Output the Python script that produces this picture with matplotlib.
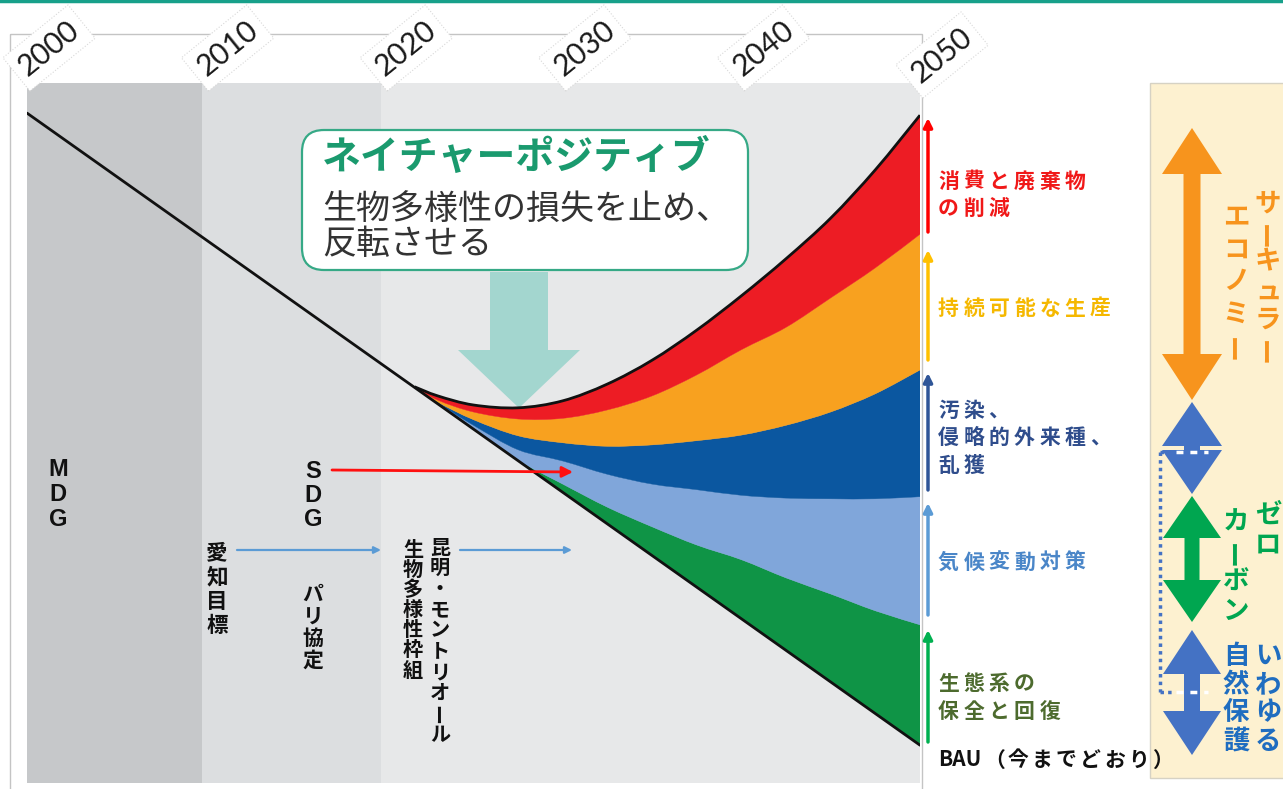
import matplotlib
matplotlib.use('Agg')
import matplotlib.pyplot as plt
from matplotlib.patches import FancyBboxPatch, Polygon, Rectangle, PathPatch
from matplotlib.path import Path

# ---------------- data ----------------
tick_years = [2000, 2010, 2020, 2030, 2040, 2050]
period_edges = [2000, 2009.8, 2019.8, 2050]
period_colors = ['#c6c8ca', '#dcdee0', '#e7e8e9']

bau_years = [2000, 2050]
bau_index = [95.7, 5.4]

branch_years = [2021.7, 2023, 2025, 2027.5, 2030, 2032.5, 2035, 2037.5,
                2040, 2042.5, 2045, 2047.5, 2050]
bau_branch = [56.6, 54.2, 50.6, 46.1, 41.5, 37.0, 32.5, 28.0, 23.5, 19.0, 14.5, 9.9, 5.4]
ecosystem_top = [56.6, 54.2, 50.6, 46.1, 42.7, 39.4, 36.6, 34.0, 31.9, 29.3, 27.0, 24.6, 22.6]
climate_top = [56.6, 54.3, 51.1, 47.6, 46.0, 44.1, 42.7, 41.9, 41.1, 40.7, 40.6, 40.6, 40.9]
pollution_top = [56.6, 54.4, 51.9, 49.6, 48.6, 48.1, 48.3, 48.9, 49.7, 51.1, 53.0, 55.6, 59.0]
production_top = [56.6, 54.7, 53.0, 52.0, 52.1, 53.3, 55.3, 58.3, 61.9, 65.1, 69.3, 73.6, 78.4]
consumption_top = [56.6, 55.3, 54.0, 53.6, 54.6, 57.0, 60.4, 64.7, 69.6, 74.9, 80.7, 87.6, 95.4]

band_colors = ['#0f9446', '#80a6da', '#0b57a0', '#f8a11f', '#ed1c24']

right_labels = [["消費と廃棄物", "の削減"], ["持続可能な生産"],
                ["汚染、", "侵略的外来種、", "乱獲"], ["気候変動対策"],
                ["生態系の", "保全と回復"]]
right_label_colors = ['#f01818', '#f5b800', '#2f4d8c', '#4a86c8', '#4d6b2e']
right_arrow_colors = ['#ff0000', '#ffc000', '#2f5597', '#5b9bd5', '#00b050']

CJK = ['Noto Sans CJK JP', 'DejaVu Sans']
LAT = ['Liberation Sans', 'DejaVu Sans']

# ---------------- figure ----------------
W, H = 1283, 789
fig = plt.figure(figsize=(W / 100, H / 100), dpi=100)
fig.patch.set_facecolor('white')

# main data axes: x 27..920 px, y 83..783 px
ax = fig.add_axes([27 / W, (H - 783) / H, 893 / W, 700 / H])
ax.set_xlim(2000, 2050)
ax.set_ylim(0, 100)
ax.axis('off')
ax.set_zorder(1)

# pixel overlay axes
px = fig.add_axes([0, 0, 1, 1])
px.set_xlim(0, W)
px.set_ylim(H, 0)
px.axis('off')
px.set_zorder(3)


def bezier_segments(xs, ys):
    """Catmull-Rom through the data points, expressed as cubic Bezier segments."""
    pts = list(zip(xs, ys))
    n = len(pts)
    verts, codes = [], []
    for i in range(n - 1):
        p0 = pts[i - 1] if i > 0 else pts[i]
        p1 = pts[i]
        p2 = pts[i + 1]
        p3 = pts[i + 2] if i + 2 < n else pts[i + 1]
        c1 = (p1[0] + (p2[0] - p0[0]) / 6, p1[1] + (p2[1] - p0[1]) / 6)
        c2 = (p2[0] - (p3[0] - p1[0]) / 6, p2[1] - (p3[1] - p1[1]) / 6)
        verts += [c1, c2, p2]
        codes += [Path.CURVE4] * 3
    return verts, codes


def curve_path(xs, ys):
    v, c = bezier_segments(xs, ys)
    return Path([(xs[0], ys[0])] + v, [Path.MOVETO] + c)


def band_path(xs, lower, upper):
    v1, c1 = bezier_segments(xs, upper)
    v2, c2 = bezier_segments(xs[::-1], lower[::-1])
    verts = [(xs[0], upper[0])] + v1 + [(xs[-1], lower[-1])] + v2 + [(xs[0], upper[0])]
    codes = [Path.MOVETO] + c1 + [Path.LINETO] + c2 + [Path.CLOSEPOLY]
    return Path(verts, codes)


# background periods
for i in range(3):
    ax.axvspan(period_edges[i], period_edges[i + 1], color=period_colors[i], lw=0, zorder=0)

# big teal arrow (decoration, pixel coords)
teal = Polygon([(490, 272), (548, 272), (548, 350), (580, 350), (519, 408),
                (458, 350), (490, 350)], closed=True, fc='#a3d6cf', ec='none',
               transform=px.transData, zorder=1)
ax.add_patch(teal)

# bands
layers = [bau_branch, ecosystem_top, climate_top, pollution_top, production_top, consumption_top]
for i in range(5):
    ax.add_patch(PathPatch(band_path(branch_years, layers[i], layers[i + 1]),
                           fc=band_colors[i], ec=band_colors[i], lw=0.3, zorder=2))

ax.plot(bau_years, bau_index, color='#111111', lw=2.0, zorder=3, solid_capstyle='round')
ax.add_patch(PathPatch(curve_path(branch_years, consumption_top), fill=False,
                       ec='#111111', lw=2.0, zorder=3))

# ---------------- overlay decorations ----------------
px.plot([0, W], [1, 1], color='#17a08a', lw=2.5)
px.add_patch(Rectangle((10, 34), 912, 760, fill=False, ec='#c4c4c4', lw=1))

# year labels
for y in tick_years:
    xp = 27 + (y - 2000) * 893 / 50 + 22
    yp = 55 if y == 2050 else 48
    px.text(xp, yp, str(y), rotation=39, ha='center', va='center', fontsize=21.5,
            family='Lato', color='#1a1a1a',
            bbox=dict(boxstyle='square,pad=0.25', fc='white', ec='#d8d8d8', lw=0.8, ls=':'))

# nature positive box
px.add_patch(FancyBboxPatch((302, 130), 446, 140,
                            boxstyle='round,pad=0,rounding_size=22',
                            fc='white', ec='#36a986', lw=1.6))
px.text(322, 157, 'ネイチャーポジティブ', fontsize=28, fontweight='bold',
        color='#1a9a6e', family=CJK, ha='left', va='center')
px.text(322, 209, '生物多様性の損失を止め、', fontsize=24.5, color='#333333',
        family=CJK, ha='left', va='center')
px.text(322, 244, '反転させる', fontsize=24.5, color='#333333',
        family=CJK, ha='left', va='center')


def vtext(x, y0, step, s, size, color='#111111', weight='bold', fam=CJK):
    for i, ch in enumerate(s):
        rot = 90 if ch == 'ー' else 0
        px.text(x, y0 + i * step, ch, ha='center', va='center', rotation=rot,
                fontsize=size, fontweight=weight, color=color, family=fam)


def htext(x0, y, step, s, size, color, weight='bold'):
    for i, ch in enumerate(s):
        px.text(x0 + i * step, y, ch, ha='left', va='center', fontsize=size,
                fontweight=weight, color=color, family=CJK)


vtext(58, 469, 25.5, 'MDG', 17, fam=LAT)
vtext(313, 471, 24.5, 'SDG', 17, fam=LAT)
vtext(217, 553, 24, '愛知目標', 15.5)
vtext(313, 594, 22, 'パリ協定', 15)
vtext(440, 547, 20.8, '昆明・モントリオール', 14.5)
vtext(413, 549, 20.2, '生物多様性枠組', 14.5)

# policy arrows
px.annotate('', xy=(573, 472), xytext=(332, 470),
            arrowprops=dict(arrowstyle='-|>', color='#ff1010', lw=2,
                            mutation_scale=16, shrinkA=0, shrinkB=0))
for a, b in [(237, 381), (460, 572)]:
    px.annotate('', xy=(b, 550), xytext=(a, 550),
                arrowprops=dict(arrowstyle='-|>', color='#5b9bd5', lw=1.6,
                                mutation_scale=10, shrinkA=0, shrinkB=0))

# right side arrows and labels
arrow_spans = [(232, 118), (360, 250), (490, 373), (615, 503), (742, 630)]
label_y0 = [181, 308, 410, 562, 684]
for i in range(5):
    y0, y1 = arrow_spans[i]
    px.annotate('', xy=(928, y1), xytext=(928, y0),
                arrowprops=dict(arrowstyle='-|>', color=right_arrow_colors[i], lw=2.5,
                                mutation_scale=13, shrinkA=0, shrinkB=0))
    for j, line in enumerate(right_labels[i]):
        htext(938, label_y0[i] + j * 27.5, 25.3, line, 15, right_label_colors[i])

px.text(938, 760, 'BAU', ha='left', va='center', fontsize=15, fontweight='bold',
        color='#111111', family=CJK)
htext(984, 760, 24, '（今までどおり）', 15, '#111111')

# right cream panel
px.add_patch(Rectangle((1150, 83), 140, 695, fc='#fdf1d0', ec='#d6d2c4', lw=1, zorder=0))


def darrow(xc, yt, yb, hw, hl, sw, color):
    pts = [(xc, yt), (xc + hw / 2, yt + hl), (xc + sw / 2, yt + hl), (xc + sw / 2, yb - hl),
           (xc + hw / 2, yb - hl), (xc, yb), (xc - hw / 2, yb - hl), (xc - sw / 2, yb - hl),
           (xc - sw / 2, yt + hl), (xc - hw / 2, yt + hl)]
    px.add_patch(Polygon(pts, closed=True, fc=color, ec='none', zorder=1))


darrow(1192, 128, 400, 60, 46, 17, '#f7941d')
darrow(1192, 402, 494, 60, 44, 16, '#4472c4')
darrow(1192, 496, 622, 58, 42, 15, '#00a650')
darrow(1192, 630, 755, 58, 44, 16, '#4472c4')

# dotted bracket
px.plot([1160, 1160], [452, 692], color='#4472c4', lw=2.5, ls=(0, (1, 1.2)), zorder=2)
px.plot([1160, 1172], [452, 452], color='#4472c4', lw=2.5, ls=(0, (1, 1.2)), zorder=2)
px.plot([1176, 1208], [452, 452], color='white', lw=2.5, ls=(0, (2, 2)), zorder=2)
px.plot([1160, 1172], [692, 692], color='#4472c4', lw=2.5, ls=(0, (1, 1.2)), zorder=2)
px.plot([1176, 1208], [692, 692], color='white', lw=2.5, ls=(0, (2, 2)), zorder=2)

vtext(1268, 204, 29, 'サーキュラー', 19, color='#f7941d')
vtext(1236, 218, 32, 'エコノミー', 19, color='#f7941d')
vtext(1268, 515, 30, 'ゼロ', 19, color='#00a650')
vtext(1236, 522, 30, 'カーボン', 19, color='#00a650')
vtext(1268, 656, 28.5, 'いわゆる', 19, color='#1f6dc0')
vtext(1236, 656, 28.5, '自然保護', 19, color='#1f6dc0')

fig.savefig('out.png', dpi=100)
